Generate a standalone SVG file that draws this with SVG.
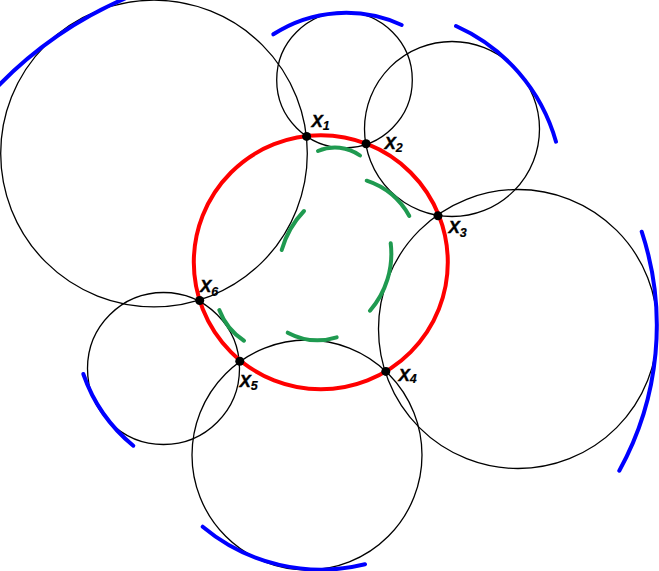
<svg xmlns="http://www.w3.org/2000/svg" width="659" height="571" viewBox="0 0 659 571">
<style>
.bk{fill:none;stroke:#000;stroke-width:1.3}
.red{fill:none;stroke:#ff0000;stroke-width:4}
.blue{fill:none;stroke:#0000ff;stroke-width:4;stroke-linecap:round}
.green{fill:none;stroke:#1f9a50;stroke-width:4;stroke-linecap:round}
.pt{fill:#000}
.lb{font-family:"Liberation Sans",Arial,sans-serif;font-size:17px;font-weight:bold;font-style:italic;fill:#000;stroke:#000;stroke-width:0.4}
.sub{font-size:12.5px;stroke-width:0.2}
</style>
<rect width="659" height="571" fill="#fff"/>
<g id="black-circles">
<circle class="bk" cx="154" cy="153.5" r="153.3"/>
<circle class="bk" cx="344.5" cy="80" r="67.8"/>
<circle class="bk" cx="452" cy="129" r="87.5"/>
<circle class="bk" cx="518" cy="329" r="139.5"/>
<circle class="bk" cx="307" cy="455" r="115"/>
<circle class="bk" cx="163.5" cy="368.5" r="76"/>
</g>
<g id="blue-arcs">
<path class="blue" d="M -5 89.2 A 400.4 400.4 0 0 1 130 -3.7"/>
<path class="blue" d="M 273.3 34.3 A 133.4 133.4 0 0 1 401.7 25"/>
<path class="blue" d="M 456 26 A 180.5 180.5 0 0 1 556 141.7"/>
<path class="blue" d="M 641.7 231.7 A 299.4 299.4 0 0 1 619.3 470.7"/>
<path class="blue" d="M 365 564.3 A 184.5 184.5 0 0 1 202.7 526.7"/>
<path class="blue" d="M 133.3 445.7 A 160.4 160.4 0 0 1 83.3 374"/>
</g>
<g id="green-arcs">
<path class="green" d="M 281.7 250 A 92 92 0 0 1 304 211"/>
<path class="green" d="M 318 151 A 42.7 42.7 0 0 1 360 155.5"/>
<path class="green" d="M 366.7 180.7 A 76.3 76.3 0 0 1 409.3 216"/>
<path class="green" d="M 390.7 243.3 A 86.6 86.6 0 0 1 370 310.7"/>
<path class="green" d="M 336.7 337.3 A 64.2 64.2 0 0 1 287.7 332.7"/>
<path class="green" d="M 244 340.7 A 63.3 63.3 0 0 1 219.3 310"/>
</g>
<g id="red-circle">
<circle class="red" cx="320.8" cy="262.3" r="127"/>
</g>
<g id="X1"><circle class="pt" cx="306.6" cy="136.4" r="4.5"/><text class="lb" x="311.5" y="126.5">X<tspan class="sub" dy="3">1</tspan></text></g>
<g id="X2"><circle class="pt" cx="366.1" cy="143.8" r="4.5"/><text class="lb" x="384.5" y="148.5">X<tspan class="sub" dy="3">2</tspan></text></g>
<g id="X3"><circle class="pt" cx="438" cy="215.8" r="4.5"/><text class="lb" x="448.5" y="233">X<tspan class="sub" dy="4">3</tspan></text></g>
<g id="X4"><circle class="pt" cx="385.8" cy="371.4" r="4.5"/><text class="lb" x="398.5" y="380.5">X<tspan class="sub" dy="2.5">4</tspan></text></g>
<g id="X5"><circle class="pt" cx="239.8" cy="361.3" r="4.5"/><text class="lb" x="239.5" y="387">X<tspan class="sub" dy="2.5">5</tspan></text></g>
<g id="X6"><circle class="pt" cx="199.7" cy="300.5" r="4.5"/><text class="lb" x="200" y="292">X<tspan class="sub" dy="3.5">6</tspan></text></g>
</svg>
